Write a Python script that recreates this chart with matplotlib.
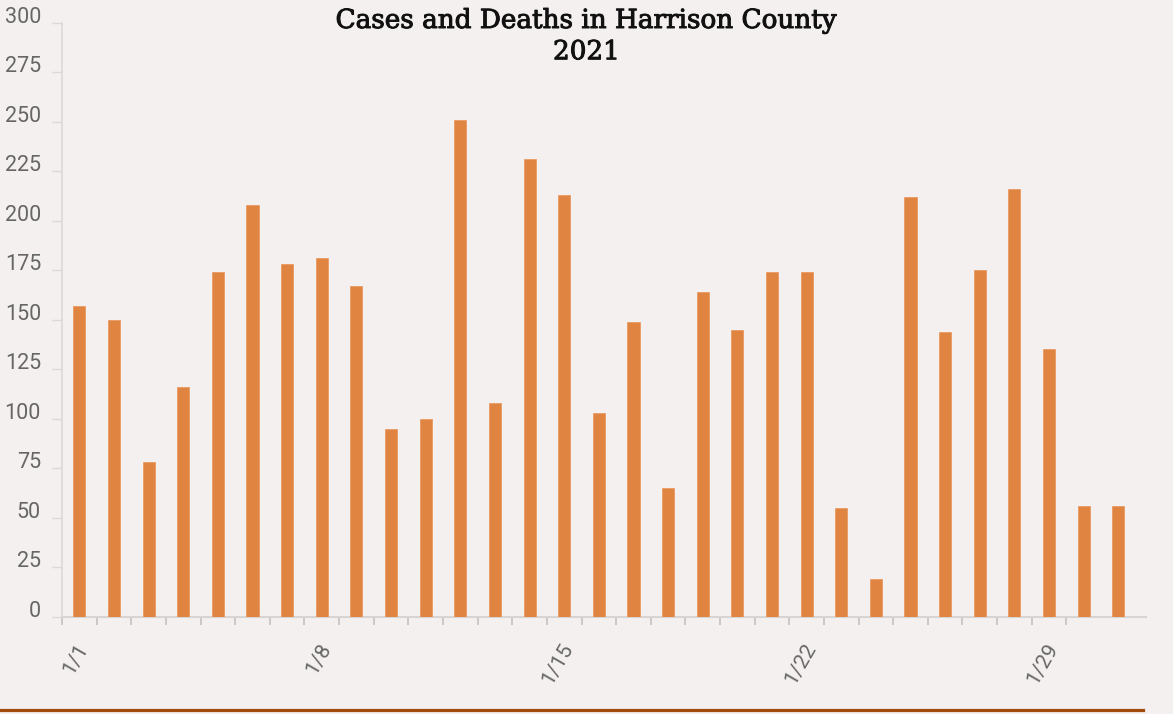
import numpy as np
import matplotlib.pyplot as plt
import matplotlib.patheffects as pe
from matplotlib.lines import Line2D
from matplotlib.transforms import ScaledTranslation

days = [f"1/{d}" for d in range(1, 32)]
cases = [157, 150, 78, 116, 174, 208, 178, 181, 167, 95, 100,
         251, 108, 231, 213, 103, 149, 65, 164, 145, 174, 174,
         55, 19, 212, 144, 175, 216, 135, 56, 56]
yticks = list(range(0, 301, 25))
label_days = ["1/1", "1/8", "1/15", "1/22", "1/29"]
title_lines = ["Cases and Deaths in Harrison County", "2021"]

bg = "#f4f0ef"
bar_color = "#e08441"

fig = plt.figure(figsize=(11.73, 7.14), dpi=100, facecolor=bg)
ax = fig.add_axes([0.0529, 0.1363, 0.9241, 0.8319], facecolor=bg)

x = np.arange(len(days))
ax.bar(x, cases, width=0.35, color=bar_color, edgecolor="#eb9a62", linewidth=0.6, zorder=3)

ax.set_xlim(-0.5, 30.8)
ax.set_ylim(0, 300)

# y axis
ax.set_yticks(yticks)
ax.tick_params(axis="y", length=7.2, width=1, color="#dcd8d6", pad=8,
               labelsize=15.5, labelcolor="#666666")
for lab in ax.get_yticklabels():
    lab.set_fontfamily("Roboto")
    lab.set_verticalalignment("baseline")

# x axis: tick marks on band boundaries, labels on selected days
ax.set_xticks(np.arange(len(days) - 1) - 0.5)
ax.set_xticklabels([])
ax.tick_params(axis="x", which="major", length=6, width=1.2, color="#c4c0be")
pos = [days.index(d) for d in label_days]
ax.set_xticks(pos, minor=True)
ax.set_xticklabels(label_days, minor=True)
ax.tick_params(axis="x", which="minor", length=0, pad=17, labelsize=15, labelcolor="#666666")
offset = ScaledTranslation(13 / 100, 0, fig.dpi_scale_trans)
for lab in ax.get_xticklabels(minor=True):
    lab.set_fontfamily("Roboto")
    lab.set_rotation(60)
    lab.set_horizontalalignment("right")
    lab.set_verticalalignment("top")
    lab.set_transform(lab.get_transform() + offset)

for side in ["top", "right"]:
    ax.spines[side].set_visible(False)
ax.spines["left"].set_color("#dcd8d6")
ax.spines["left"].set_linewidth(1.2)
ax.spines["bottom"].set_color("#d8d4d2")
ax.spines["bottom"].set_linewidth(1.5)

# title, two centred lines in a heavy serif
for line, yb in zip(title_lines, [0.9608, 0.9170]):
    fig.text(0.5, yb, line, ha="center", va="baseline", fontsize=18.9,
             family="DejaVu Serif", color="#111111",
             path_effects=[pe.withStroke(linewidth=0.7, foreground="#111111")])

fig.add_artist(Line2D([0, 0.9744], [0.006, 0.006], transform=fig.transFigure,
                      color="#a34a0f", linewidth=2.3))

fig.savefig("out.png", dpi=100, facecolor=bg)
